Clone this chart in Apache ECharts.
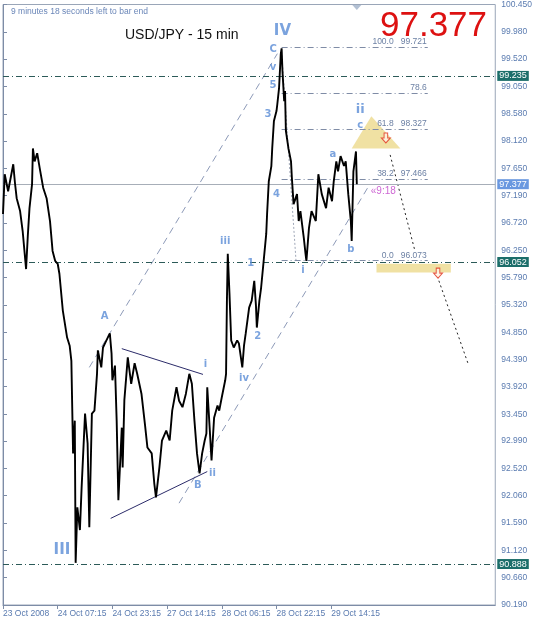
<!DOCTYPE html>
<html>
<head>
<meta charset="utf-8">
<script src="https://cdn.jsdelivr.net/npm/echarts@6/dist/echarts.min.js"></script>
<style>
  html, body { margin: 0; padding: 0; background: #fff; }
  #chart { width: 535px; height: 625px; }
</style>
</head>
<body>
<div id="chart"></div>
<script>
// 15 min bars, x = bar index from 23 Oct 2008 15:15
const barIndex = [0, 2, 6, 12, 14, 16, 20, 23, 27, 29, 31, 34, 35, 37, 40, 43, 47, 51, 55, 58, 61, 64, 66, 70, 75, 78, 80, 82, 84, 85, 87, 90, 92, 96, 99, 101, 104, 107, 110, 111, 115, 117, 121, 125, 127, 128, 131, 133, 135, 139, 140, 142, 146, 150, 154, 157, 162, 166, 169, 174, 177, 179, 183, 186, 191, 195, 198, 203, 206, 210, 214, 218, 221, 224, 227, 230, 233, 236, 238, 239, 242, 244, 247, 251, 253, 256, 260, 261, 262, 263, 265, 267, 270, 274, 276, 280, 282, 284, 288, 291, 294, 296, 297, 300, 302, 305, 308, 309, 311, 314, 315, 317, 320, 321, 323, 325, 326, 327, 329, 330, 331, 334, 337, 338, 340, 344, 346, 348, 352, 354, 355, 358, 361, 366, 369, 373, 378, 381, 385, 387, 390, 392, 395, 399, 401, 404, 407, 408, 410, 413, 414];
const closePrice = [96.87, 97.55, 97.26, 97.72, 97.40, 97.14, 96.92, 96.58, 95.93, 96.49, 96.97, 97.38, 97.99, 97.77, 97.91, 97.65, 97.32, 97.14, 96.75, 96.24, 96.07, 96.02, 95.85, 95.22, 94.76, 94.62, 94.36, 92.78, 93.34, 90.91, 91.86, 91.47, 92.20, 93.46, 92.95, 91.52, 93.46, 93.51, 94.14, 94.54, 94.25, 94.59, 94.71, 94.83, 94.49, 94.03, 94.28, 93.34, 91.98, 93.22, 92.54, 93.69, 94.42, 93.97, 94.32, 94.14, 93.80, 93.29, 92.88, 92.78, 92.27, 92.03, 92.54, 93.00, 93.17, 93.00, 93.51, 93.91, 93.68, 93.57, 93.80, 94.14, 93.97, 93.34, 92.78, 92.44, 92.78, 93.00, 93.12, 93.91, 93.17, 92.66, 93.39, 93.60, 93.51, 93.74, 94.03, 94.14, 95.39, 96.19, 95.51, 94.71, 94.59, 94.71, 94.66, 94.25, 94.62, 94.83, 95.27, 95.39, 95.73, 95.30, 94.93, 95.39, 95.61, 96.07, 96.53, 96.87, 97.43, 97.69, 97.99, 98.46, 98.63, 98.75, 99.02, 99.60, 99.70, 99.31, 98.80, 98.97, 98.29, 97.99, 97.77, 97.49, 97.04, 97.21, 96.75, 96.92, 96.46, 96.19, 96.07, 96.63, 96.92, 96.75, 97.55, 97.21, 96.97, 97.32, 97.09, 97.43, 97.77, 97.60, 97.86, 97.69, 97.77, 97.21, 96.75, 96.41, 97.60, 97.94, 97.38];

const timeTicks = [0, 64, 128, 192, 256, 320, 384];
const timeLabels = ['23 Oct 2008', '24 Oct 07:15', '24 Oct 23:15', '27 Oct 14:15', '28 Oct 06:15', '28 Oct 22:15', '29 Oct 14:15'];
const priceTicks = [100.450, 99.980, 99.520, 99.050, 98.580, 98.120, 97.650, 97.190, 96.720, 96.250, 95.790, 95.320, 94.850, 94.390, 93.920, 93.450, 92.990, 92.520, 92.060, 91.590, 91.120, 90.660, 90.190];

const lastPrice = 97.377;
const levelLines = [99.235, 96.052, 90.888];

const fibPercent = ['100.0', '78.6', '61.8', '38.2', '0.0'];
const fibPrice = [99.721, 98.940, 98.327, 97.466, 96.073];
const fibShowPrice = [true, false, true, true, true];
const fibFrom = 326, fibTo = 497;

// trend lines: [[x1, y1], [x2, y2]]
const channelUpper = [[101, 94.25], [321, 99.61]];
const channelLower = [[206, 91.93], [428, 97.35]];
const triangleUpper = [[139, 94.57], [234, 94.13]];
const triangleLower = [[126, 91.67], [239, 92.47]];
const retraceLine = [[326, 99.65], [343, 96.04]];
const forecastA = [[453, 97.88], [482, 96.24]];
const forecastB = [[510, 95.73], [545, 94.28]];

const sellZone = [[431, 98.54], [408, 97.99], [465, 97.99]];
const targetZone = [[437, 96.02], [524, 95.87]];
const sellArrows = [[448, 98.17], [509, 95.86]];

const bigWaves = [
  { name: 'IV', value: [327, 99.99] },
  { name: 'III', value: [69, 91.13] }
];
const midWaves = [
  { name: 'ii', value: [418, 98.66] }
];
const smallWaves = [
  { name: 'C', value: [316, 99.68] }, { name: 'v', value: [316, 99.38] },
  { name: '5', value: [316, 99.07] }, { name: '3', value: [310, 98.58] },
  { name: '4', value: [320, 97.21] }, { name: 'c', value: [418, 98.39] },
  { name: 'a', value: [386, 97.89] }, { name: 'b', value: [407, 96.26] },
  { name: 'i', value: [351, 95.90] }, { name: '1', value: [290, 96.02] },
  { name: '2', value: [298, 94.78] }, { name: 'iii', value: [260, 96.41] },
  { name: 'iv', value: [282, 94.07] }, { name: 'i', value: [237, 94.30] },
  { name: 'ii', value: [245, 92.44] }, { name: 'B', value: [228, 92.24] },
  { name: 'A', value: [119, 95.12] }
];
const timerLabel = [{ name: '«9:18', value: [445, 97.26] }];
const barMarker = [[414, 100.40]];

const chart = echarts.init(document.getElementById('chart'));

const waveColor = '#5a8cd6';
const axisColor = '#7d8ca6';
const labelColor = '#5a7bb0';
const dashDot = [6, 3, 1, 3];

const trendSeries = (data, color, type, width) => ({
  type: 'line', data: data, symbol: 'none', silent: true, z: 3,
  lineStyle: { color: color, type: type, width: width || 1 }
});

const waveSeries = (data, size) => ({
  type: 'scatter', data: data, symbolSize: 1, z: 6, silent: true,
  itemStyle: { color: 'transparent' },
  label: {
    show: true, position: 'inside', formatter: '{b}',
    color: waveColor, fontWeight: 'bold', fontSize: size,
    fontFamily: 'DejaVu Sans'
  }
});

const option = {
  animation: false,
  backgroundColor: '#fff',
  textStyle: { fontFamily: 'Liberation Sans' },
  title: [
    { text: '9 minutes 18 seconds left to bar end', left: 6, top: 2,
      textStyle: { fontSize: 8.5, fontWeight: 'normal', color: '#6a86b8' } },
    { text: 'USD/JPY - 15 min', left: 120, top: 23,
      textStyle: { fontSize: 14, fontWeight: 'normal', color: '#111' } },
    { text: lastPrice.toFixed(3), left: 375, top: 4,
      textStyle: { fontSize: 35, fontWeight: 'normal', color: '#dd1111' } }
  ],
  grid: {
    left: 3, right: 38, top: 3, bottom: 20,
    show: true, borderColor: '#9aa6b8', borderWidth: 1
  },
  xAxis: {
    type: 'value', min: 0, max: 576,
    axisLine: { show: true, lineStyle: { color: axisColor } },
    axisTick: { show: true, length: 4, customValues: timeTicks, lineStyle: { color: axisColor } },
    axisLabel: {
      customValues: timeTicks, align: 'left', margin: 4,
      fontSize: 8.5, color: labelColor,
      formatter: (v) => timeLabels[timeTicks.indexOf(v)]
    },
    splitLine: { show: false }
  },
  yAxis: {
    type: 'value', position: 'right', min: 90.19, max: 100.45,
    axisLine: { show: true, lineStyle: { color: axisColor } },
    axisTick: { show: true, length: 4, customValues: priceTicks, lineStyle: { color: axisColor } },
    axisLabel: {
      customValues: priceTicks, margin: 6, fontSize: 8.5, color: labelColor,
      formatter: (v) => v.toFixed(3)
    },
    splitLine: { show: false }
  },
  series: [
    {
      type: 'custom', z: 1, silent: true,
      data: [0],
      renderItem: (params, api) => ({
        type: 'polygon',
        shape: { points: sellZone.map((p) => api.coord(p)) },
        style: { fill: 'rgba(236, 218, 140, 0.8)' }
      })
    },
    {
      type: 'custom', z: 1, silent: true,
      data: [0],
      renderItem: (params, api) => {
        const a = api.coord(targetZone[0]);
        const b = api.coord(targetZone[1]);
        return {
          type: 'rect',
          shape: { x: a[0], y: a[1], width: b[0] - a[0], height: b[1] - a[1] },
          style: { fill: 'rgba(236, 218, 140, 0.8)' }
        };
      }
    },
    {
      type: 'line', symbol: 'none', z: 5,
      data: barIndex.map((x, i) => [x, closePrice[i]]),
      lineStyle: { color: '#000', width: 1.9 },
      markLine: {
        symbol: ['none', 'none'], silent: true,
        data: levelLines.map((v) => ({
          yAxis: v,
          lineStyle: { color: '#2c5a58', type: dashDot, width: 1 },
          label: {
            position: 'end', distance: 2, formatter: v.toFixed(3),
            color: '#fff', backgroundColor: '#1c6e6a', fontSize: 9, padding: [1, 2, 0, 2]
          }
        })).concat([{
          yAxis: lastPrice,
          lineStyle: { color: '#a7aeb8', type: 'solid', width: 1 },
          label: {
            position: 'end', distance: 2, formatter: lastPrice.toFixed(3),
            color: '#fff', backgroundColor: '#6a98e0', fontSize: 9, padding: [1, 2, 0, 2]
          }
        }])
      }
    },
    {
      type: 'line', data: [], symbol: 'none',
      markLine: {
        symbol: ['none', 'none'], silent: true,
        lineStyle: { color: '#7f8ca6', type: dashDot, width: 1 },
        label: {
          position: 'insideEndTop', distance: 1, fontSize: 8.5, color: '#6c80a4'
        },
        data: fibPrice.map((p, i) => [
          { coord: [fibFrom, p], label: { formatter: fibPercent[i] + (fibShowPrice[i] ? '   ' + p.toFixed(3) : '') } },
          { coord: [fibTo, p] }
        ])
      }
    },
    trendSeries(channelUpper, '#8d9ab8', [7, 5]),
    trendSeries(channelLower, '#8d9ab8', [7, 5]),
    trendSeries(triangleUpper, '#2c2c6a', 'solid'),
    trendSeries(triangleLower, '#2c2c6a', 'solid'),
    trendSeries(retraceLine, '#a0a8b8', [2, 2]),
    trendSeries(forecastA, '#222', [2, 3]),
    trendSeries(forecastB, '#222', [2, 3]),
    {
      type: 'scatter', data: sellArrows, z: 7, silent: true,
      symbol: 'path://M3,0 L7,0 L7,5 L10,5 L5,10 L0,5 L3,5 Z',
      symbolSize: [9, 10],
      itemStyle: { color: '#fff4e6', borderColor: '#e0301a', borderWidth: 1 }
    },
    {
      type: 'scatter', data: barMarker, z: 7, silent: true,
      symbol: 'triangle', symbolRotate: 180, symbolSize: [9, 5],
      itemStyle: { color: '#9fb0c8' }
    },
    waveSeries(bigWaves, 15),
    waveSeries(midWaves, 13),
    waveSeries(smallWaves, 10),
    {
      type: 'scatter', data: timerLabel, symbolSize: 1, z: 6, silent: true,
      itemStyle: { color: 'transparent' },
      label: { show: true, position: 'inside', formatter: '{b}', color: '#c040c8', fontSize: 10 }
    }
  ]
};

chart.setOption(option);
</script>
</body>
</html>
